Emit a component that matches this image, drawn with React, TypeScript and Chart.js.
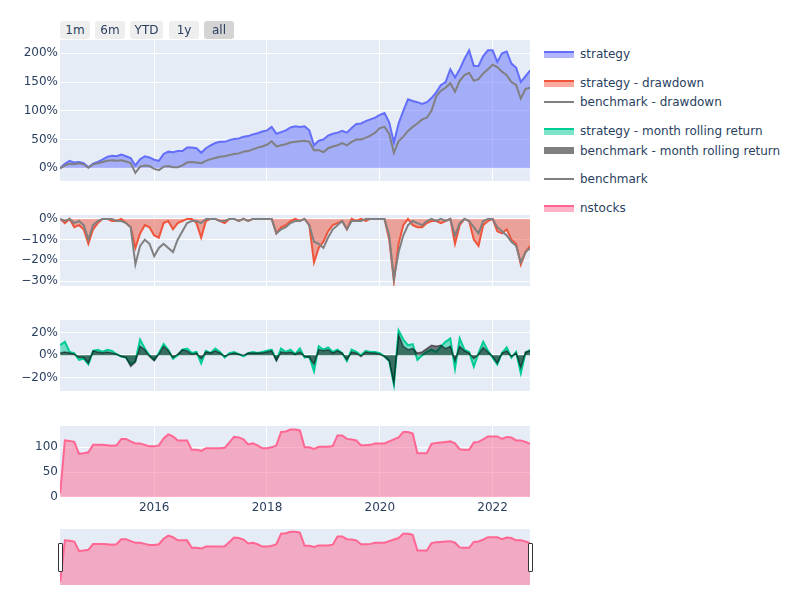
import React, { useEffect, useRef } from "react";
import { Chart, registerables } from "chart.js";

Chart.register(...registerables);

// ---- data: monthly observations, first point = May 2014 ----
const FIRST_YEAR = 2014;
const FIRST_MONTH = 5;

// cumulative return, %
const strategy = [
  0, 8, 13, 10, 11, 9, 2, 8,
  11, 15, 20, 22, 21, 24, 21, 18, 5, 16, 21, 19,
  15, 13, 25, 29, 28, 30, 30, 36, 36, 35, 27, 35,
  40, 44, 46, 46, 49, 51, 52, 55, 56, 59, 61, 64,
  66, 72, 60, 63, 66, 71, 73, 72, 73, 66, 40, 48,
  50, 57, 60, 62, 65, 62, 70, 77, 78, 82, 85, 88,
  93, 96, 80, 45, 78, 100, 120, 117, 115, 112, 115, 122,
  132, 145, 150, 172, 158, 172, 190, 205, 178, 178, 195, 205,
  205, 185, 200, 203, 182, 175, 150, 160, 170,
];
const benchmark = [
  0, 5, 8, 7, 9, 7, 1, 7,
  9, 11, 13, 14, 13, 14, 12, 9, -8, 3, 5, 4,
  -1, -3, 3, 4, 2, 2, 5, 10, 11, 10, 9, 13,
  16, 18, 20, 21, 23, 25, 26, 29, 30, 33, 36, 38,
  41, 47, 38, 40, 42, 45, 46, 47, 48, 46, 31, 32,
  28, 35, 38, 40, 44, 40, 46, 50, 50, 53, 57, 62,
  70, 72, 60, 27, 47, 55, 65, 72, 78, 85, 88, 100,
  125, 135, 140, 148, 133, 152, 162, 166, 152, 155, 165, 172,
  180, 176, 168, 162, 150, 145, 121, 138, 140,
];
// drawdown, %
const strategyDrawdown = [
  0, -2, 0, -4, -3, -5, -12, -5,
  -2, 0, 0, -1, -1, 0, -2, -4, -14, -7, -3, -4,
  -8, -9, -2, -1, -5, -2, -1, 0, 0, -2, -9, -1,
  0, 0, -1, -2, 0, 0, -1, 0, -1, 0, 0, 0,
  0, 0, -7, -4, -3, -1, 0, -1, 0, -3, -21, -14,
  -11, -6, -3, -2, -1, -5, 0, -1, 0, -1, 0, 0,
  0, 0, -10, -30, -12, -3, 0, -3, -4, -4, -2, -1,
  -1, -2, -1, 0, -12, -3, 0, -1, -10, -13, -3, -1,
  0, -6, -7, -5, -10, -12, -22, -16, -13,
];
const benchmarkDrawdown = [
  0, -1, 0, -2, -1, -3, -10, -3,
  -1, 0, 0, 0, -1, -1, -2, -4, -22, -13, -10, -12,
  -18, -14, -12, -14, -16, -10, -6, -2, -1, -1, -2, 0,
  0, 0, -1, -1, 0, 0, -1, 0, -1, 0, 0, 0,
  0, 0, -7, -5, -4, -2, -1, -1, 0, -3, -11, -12,
  -14, -9, -5, -3, -1, -5, -1, -1, -1, 0, 0, 0,
  0, 0, -8, -29, -16, -8, -3, -1, -2, -3, -1, 0,
  -1, 0, -1, 0, -8, -2, 0, -1, -4, -7, -1, 0,
  0, -4, -6, -8, -11, -13, -21, -16, -14,
];
// month rolling return, %
const strategyRolling = [
  9, 12, 3, 2, -4, -3, -8, 4,
  5, 3, 5, 4, 1, -1, -2, -8, -5, 14, 6, 0,
  -4, 2, 10, 5, -3, 0, 5, 6, 2, 3, -7, 4,
  2, 6, 3, -2, 2, 3, 1, -1, 2, 3, 2, 3,
  4, 5, -4, 6, 3, 5, 1, 6, -2, -1, -14, 8,
  5, 7, 3, 5, 2, -5, 5, 3, 0, 4, 3, 3,
  2, -1, -5, -26, 22, 14, 9, 10, -4, 0, 3, 5,
  3, 8, 12, 15, -12, 15, 5, 3, -10, 2, 12, 4,
  -2, -8, 2, 7, -2, 3, -16, 2, 5,
];
const benchmarkRolling = [
  2, 3, 2, 1, -2, -2, -7, 4,
  3, 2, 3, 2, 1, -1, -2, -10, -6, 8, 5, -1,
  -5, 1, 8, 4, -2, 1, 5, 4, 1, 2, -3, 3,
  2, 4, 2, -1, 1, 2, 1, 0, 2, 2, 2, 2,
  3, 4, -5, 3, 2, 3, 1, 3, -1, -2, -8, 5,
  4, 5, 2, 4, 2, -4, 3, 2, -1, 3, 2, 2,
  1, -1, -5, -25, 18, 8, 5, 6, 2, 3, 6, 9,
  8, 9, 6, 8, -5, 8, 4, 2, -3, 1, 7, 3,
  -1, -7, 2, 4, -1, 2, -11, 3, 4,
];
// number of stocks held
const nstocks = [
  8, 114, 113, 111, 87, 88, 90, 105,
  105, 105, 104, 103, 104, 117, 117, 112, 108, 108, 105, 102,
  102, 104, 118, 126, 122, 114, 114, 114, 95, 95, 93, 98,
  98, 98, 98, 99, 110, 121, 120, 116, 106, 108, 104, 98,
  98, 100, 104, 131, 132, 136, 136, 134, 100, 100, 97, 101,
  101, 101, 103, 124, 124, 117, 116, 114, 104, 104, 105, 108,
  108, 108, 112, 116, 120, 131, 131, 128, 88, 88, 88, 107,
  109, 110, 111, 112, 108, 96, 95, 95, 110, 111, 116, 122,
  122, 122, 117, 121, 120, 114, 114, 111, 107,
];

const xTickYears = [2016, 2018, 2020, 2022];
const cumTicks = [0, 50, 100, 150, 200];
const ddTicks = [0, -10, -20, -30];
const rollTicks = [-20, 0, 20];
const nstocksTicks = [0, 50, 100];
const rangeButtons = ["1m", "6m", "YTD", "1y", "all"];

// ---- styling ----
const FONT = '"DejaVu Sans", Verdana, sans-serif';
const TEXT = "#2a3f5f";
const PLOT_BG = "#E5ECF6";
const BLUE = "#636efa";
const RED = "#EF553B";
const GREEN = "#00cc96";
const PINK = "#FF6692";
const GRAY = "#808080";

const X_MIN = 2014.33;
const X_MAX = 2022.663;
const PLOT_RIGHT = 530;
const CANVAS_W = 540;
const AXIS_W = 60;
const PAD = 12;

const xs = strategy.map((_, i) => FIRST_YEAR + (FIRST_MONTH - 1 + i) / 12);
const pts = (arr: number[]) => arr.map((y, i) => ({ x: xs[i], y }));

const pct = (v: number) => (v < 0 ? "\u2212" + Math.abs(v) + "%" : v + "%");

const bgPlugin = {
  id: "plotBg",
  beforeDraw(chart: any) {
    const { ctx, chartArea: a } = chart;
    ctx.save();
    ctx.fillStyle = PLOT_BG;
    ctx.fillRect(a.left, a.top, a.right - a.left, a.bottom - a.top);
    ctx.restore();
  },
};

type PanelDef = {
  top: number;
  bottom: number;
  yMin: number;
  yMax: number;
  ticks: number[];
  fmt: (v: number) => string;
  datasets: any[];
  xLabels: boolean;
};

const panels: PanelDef[] = [
  {
    top: 40,
    bottom: 181,
    yMin: -22,
    yMax: 223,
    ticks: cumTicks,
    fmt: pct,
    xLabels: false,
    datasets: [
      { data: pts(benchmark), borderColor: GRAY, borderWidth: 2, fill: false, order: 0 },
      {
        data: pts(strategy),
        borderColor: BLUE,
        borderWidth: 2,
        fill: "origin",
        backgroundColor: "rgba(99,110,250,0.5)",
        order: 1,
      },
    ],
  },
  {
    top: 215,
    bottom: 286,
    yMin: -32.4,
    yMax: 1.9,
    ticks: ddTicks,
    fmt: pct,
    xLabels: false,
    datasets: [
      { data: pts(benchmarkDrawdown), borderColor: GRAY, borderWidth: 2, fill: false, order: 0 },
      {
        data: pts(strategyDrawdown),
        borderColor: RED,
        borderWidth: 2,
        fill: "origin",
        backgroundColor: "rgba(239,85,59,0.5)",
        order: 1,
      },
    ],
  },
  {
    top: 320,
    bottom: 391,
    yMin: -31.7,
    yMax: 31.4,
    ticks: rollTicks,
    fmt: pct,
    xLabels: false,
    datasets: [
      {
        data: pts(benchmarkRolling),
        borderColor: "rgba(0,0,0,0.5)",
        borderWidth: 1.5,
        fill: "origin",
        backgroundColor: "rgba(0,0,0,0.5)",
        order: 0,
      },
      {
        data: pts(strategyRolling),
        borderColor: GREEN,
        borderWidth: 2,
        fill: "origin",
        backgroundColor: "rgba(0,204,150,0.5)",
        order: 1,
      },
    ],
  },
  {
    top: 426,
    bottom: 497,
    yMin: 0,
    yMax: 143,
    ticks: nstocksTicks,
    fmt: (v: number) => String(v),
    xLabels: true,
    datasets: [
      {
        data: pts(nstocks),
        borderColor: PINK,
        borderWidth: 2,
        fill: "origin",
        backgroundColor: "rgba(255,102,146,0.5)",
        order: 0,
      },
    ],
  },
];

const X_LABEL_H = 24;

function canvasHeight(p: PanelDef) {
  return PAD + (p.bottom - p.top) + (p.xLabels ? X_LABEL_H : PAD);
}

function makePanel(canvas: HTMLCanvasElement, p: PanelDef) {
  const tickFont = { family: FONT, size: 12 };
  return new Chart(canvas, {
    type: "line",
    data: { datasets: p.datasets },
    options: {
      responsive: false,
      maintainAspectRatio: false,
      animation: false,
      events: [],
      layout: {
        padding: { top: PAD, bottom: p.xLabels ? 0 : PAD, left: 0, right: CANVAS_W - PLOT_RIGHT },
      },
      plugins: { legend: { display: false }, tooltip: { enabled: false } },
      elements: { point: { radius: 0 }, line: { tension: 0 } },
      scales: {
        x: {
          type: "linear",
          min: X_MIN,
          max: X_MAX,
          afterBuildTicks: (s: any) => {
            s.ticks = xTickYears.map((v) => ({ value: v }));
          },
          afterFit: (s: any) => {
            s.height = p.xLabels ? X_LABEL_H : 0;
          },
          grid: { color: "#ffffff", lineWidth: 1, drawTicks: false },
          border: { display: false },
          ticks: {
            display: p.xLabels,
            autoSkip: false,
            maxRotation: 0,
            padding: 4,
            font: tickFont,
            color: TEXT,
            callback: (v: any) => String(v),
          },
        },
        y: {
          type: "linear",
          min: p.yMin,
          max: p.yMax,
          afterBuildTicks: (s: any) => {
            s.ticks = p.ticks.map((v) => ({ value: v }));
          },
          afterFit: (s: any) => {
            s.width = AXIS_W;
          },
          grid: {
            color: "#ffffff",
            lineWidth: (ctx: any) => (ctx.tick && ctx.tick.value === 0 ? 2 : 1),
            drawTicks: false,
          },
          border: { display: false },
          ticks: {
            autoSkip: false,
            padding: 2,
            font: tickFont,
            color: TEXT,
            callback: (v: any) => p.fmt(Number(v)),
          },
        },
      },
    } as any,
    plugins: [bgPlugin],
  });
}

const SLIDER_TOP = 529;
const SLIDER_H = 56;

function makeSlider(canvas: HTMLCanvasElement) {
  return new Chart(canvas, {
    type: "line",
    data: {
      datasets: [
        {
          data: pts(nstocks),
          borderColor: PINK,
          borderWidth: 2,
          fill: "origin",
          backgroundColor: "rgba(255,102,146,0.5)",
        },
      ],
    },
    options: {
      responsive: false,
      maintainAspectRatio: false,
      animation: false,
      events: [],
      layout: { padding: 0 },
      plugins: { legend: { display: false }, tooltip: { enabled: false } },
      elements: { point: { radius: 0 }, line: { tension: 0 } },
      scales: {
        x: { type: "linear", min: X_MIN, max: X_MAX, display: false },
        y: { type: "linear", min: 0, max: 143, display: false },
      },
    } as any,
    plugins: [bgPlugin],
  });
}

const legend = [
  { label: "strategy", y: 54, kind: "fill", line: BLUE, fill: "rgba(99,110,250,0.5)" },
  { label: "strategy - drawdown", y: 83, kind: "fill", line: RED, fill: "rgba(239,85,59,0.5)" },
  { label: "benchmark - drawdown", y: 102, kind: "line", line: GRAY, fill: "" },
  { label: "strategy - month rolling return", y: 131, kind: "fill", line: GREEN, fill: "rgba(0,204,150,0.5)" },
  { label: "benchmark - month rolling return", y: 150.5, kind: "block", line: "rgba(0,0,0,0.5)", fill: "rgba(0,0,0,0.5)" },
  { label: "benchmark", y: 179, kind: "line", line: GRAY, fill: "" },
  { label: "nstocks", y: 208, kind: "fill", line: PINK, fill: "rgba(255,102,146,0.5)" },
];

const buttonBoxes = [
  { left: 60, width: 30 },
  { left: 95, width: 30 },
  { left: 130, width: 33 },
  { left: 169, width: 30 },
  { left: 204, width: 30 },
];

export default function App() {
  const refs = useRef<(HTMLCanvasElement | null)[]>([]);
  const sliderRef = useRef<HTMLCanvasElement | null>(null);

  useEffect(() => {
    const charts: Chart[] = [];
    panels.forEach((p, i) => {
      const c = refs.current[i];
      if (c) charts.push(makePanel(c, p));
    });
    if (sliderRef.current) charts.push(makeSlider(sliderRef.current));
    return () => charts.forEach((c) => c.destroy());
  }, []);

  const textStyle: React.CSSProperties = {
    fontFamily: FONT,
    fontSize: 12,
    color: TEXT,
    whiteSpace: "nowrap",
  };

  return (
    <div
      style={{
        position: "fixed",
        left: 0,
        top: 0,
        width: 800,
        height: 600,
        background: "#ffffff",
        overflow: "hidden",
      }}
    >
      {panels.map((p, i) => (
        <canvas
          key={i}
          ref={(el) => {
            refs.current[i] = el;
          }}
          width={CANVAS_W}
          height={canvasHeight(p)}
          style={{
            position: "absolute",
            left: 0,
            top: p.top - PAD,
            width: CANVAS_W,
            height: canvasHeight(p),
          }}
        />
      ))}
      <canvas
        ref={sliderRef}
        width={PLOT_RIGHT - AXIS_W}
        height={SLIDER_H}
        style={{
          position: "absolute",
          left: AXIS_W,
          top: SLIDER_TOP,
          width: PLOT_RIGHT - AXIS_W,
          height: SLIDER_H,
        }}
      />
      {[57.5, 528].map((x, i) => (
        <div
          key={"h" + i}
          style={{
            position: "absolute",
            left: x,
            top: 543,
            width: 3,
            height: 27,
            background: "#ffffff",
            border: "1px solid #333333",
            borderRadius: 1,
          }}
        />
      ))}
      {rangeButtons.map((b, i) => (
        <div
          key={b}
          style={{
            ...textStyle,
            position: "absolute",
            left: buttonBoxes[i].left,
            top: 21,
            width: buttonBoxes[i].width,
            height: 18,
            lineHeight: "18px",
            textAlign: "center",
            background: b === "all" ? "#d4d4d4" : "#eeeeee",
            borderRadius: 3,
          }}
        >
          {b}
        </div>
      ))}
      {legend.map((l) => (
        <React.Fragment key={l.label}>
          {l.kind === "fill" && (
            <>
              <div
                style={{
                  position: "absolute",
                  left: 544,
                  top: l.y - 3,
                  width: 30,
                  height: 2,
                  background: l.line,
                }}
              />
              <div
                style={{
                  position: "absolute",
                  left: 544,
                  top: l.y - 1,
                  width: 30,
                  height: 5,
                  background: l.fill,
                }}
              />
            </>
          )}
          {l.kind === "line" && (
            <div
              style={{
                position: "absolute",
                left: 544,
                top: l.y - 1.5,
                width: 30,
                height: 2,
                background: l.line,
              }}
            />
          )}
          {l.kind === "block" && (
            <div
              style={{
                position: "absolute",
                left: 544,
                top: l.y - 3.5,
                width: 30,
                height: 7,
                background: l.fill,
              }}
            />
          )}
          <div
            style={{
              ...textStyle,
              position: "absolute",
              left: 580,
              top: l.y - 9,
              height: 18,
              lineHeight: "18px",
            }}
          >
            {l.label}
          </div>
        </React.Fragment>
      ))}
    </div>
  );
}
